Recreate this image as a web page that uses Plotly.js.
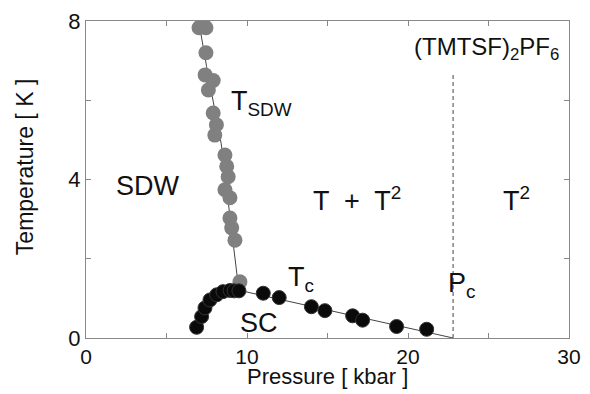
<!DOCTYPE html>
<html>
<head>
<meta charset="utf-8">
<script src="https://cdn.plot.ly/plotly-3.0.1.min.js"></script>
<style>html,body{margin:0;padding:0;background:#fff;}#chart{width:590px;height:394px;}</style>
</head>
<body>
<div id="chart"></div>
<script>
// SDW transition points (gray)
const sdwPressure = [7.02, 7.45, 7.45, 7.4, 7.9, 7.6, 7.9, 8.1, 8.0, 8.63, 8.74, 8.83, 8.63, 8.94, 8.94, 9.05, 9.25, 9.56];
const sdwTemp     = [7.83, 7.83, 7.2, 6.64, 6.5, 6.26, 5.68, 5.38, 5.12, 4.62, 4.33, 4.07, 3.74, 3.54, 3.03, 2.78, 2.47, 1.42];
// SDW guide line
const sdwLineP = [7.0, 7.19, 7.49, 8.4, 9.25, 9.45];
const sdwLineT = [8.0, 7.57, 6.85, 4.9, 1.97, 1.35];
// SC transition points (black)
const scPressure = [6.87, 7.18, 7.39, 7.7, 8.12, 8.51, 8.95, 9.2, 9.5, 11.01, 12.0, 14.0, 14.84, 16.56, 17.18, 19.29, 21.16];
const scTemp     = [0.27, 0.54, 0.76, 0.96, 1.09, 1.17, 1.2, 1.19, 1.19, 1.13, 1.02, 0.79, 0.69, 0.56, 0.45, 0.29, 0.22];
// Tc guide line
const tcLineP = [9.0, 22.8];
const tcLineT = [1.25, 0.0];
// critical pressure
const pc = 22.8;
const pcLineT = [0, 6.7];
// tick labels
const xTickVals = [0, 5, 10, 15, 20, 25, 30];
const xTickText = ['0', '', '10', '', '20', '', '30'];
const yTickVals = [0, 2, 4, 6, 8];
const yTickText = ['0', '', '4', '', '8'];
const xTitle = 'Pressure [ kbar ]';
const yTitle = 'Temperature [ K ]';

const FONT = 'Arial, "Liberation Sans", Helvetica, sans-serif';
const INK = '#111111';

const traces = [
  {x: sdwLineP, y: sdwLineT, mode: 'lines', line: {color: '#444', width: 1}, hoverinfo: 'skip', showlegend: false},
  {x: sdwPressure, y: sdwTemp, mode: 'markers', marker: {size: 15, color: '#808080', line: {width: 0}}, showlegend: false},
  {x: tcLineP, y: tcLineT, mode: 'lines', line: {color: '#444', width: 1}, hoverinfo: 'skip', showlegend: false},
  {x: [pc, pc], y: pcLineT, mode: 'lines', line: {color: '#444', width: 1, dash: '4px,3px'}, hoverinfo: 'skip', showlegend: false},
  {x: scPressure, y: scTemp, mode: 'markers', marker: {size: 14, color: '#0a0a0a', line: {width: 1, color: '#333'}}, showlegend: false}
];

function ann(x, y, text, size, xanchor) {
  return {x: x, y: y, xref: 'x', yref: 'y', text: text, showarrow: false,
          xanchor: xanchor || 'left', yanchor: 'middle', font: {family: FONT, size: size, color: INK}};
}

const layout = {
  width: 590, height: 394,
  margin: {l: 86, r: 21, t: 21, b: 56},
  paper_bgcolor: '#fff', plot_bgcolor: '#fff',
  font: {family: FONT, color: INK},
  xaxis: {
    range: [0, 30], tickvals: xTickVals, ticktext: xTickText,
    ticks: 'inside', ticklen: 5, tickcolor: '#888', tickwidth: 1,
    showline: true, linecolor: '#888', linewidth: 1, mirror: 'ticks',
    showgrid: false, zeroline: false,
    tickfont: {size: 21, color: INK}
  },
  yaxis: {
    range: [0, 8], tickvals: yTickVals, ticktext: yTickText,
    ticks: 'inside', ticklen: 5, tickcolor: '#888', tickwidth: 1,
    showline: true, linecolor: '#888', linewidth: 1, mirror: 'ticks',
    showgrid: false, zeroline: false,
    tickfont: {size: 22, color: INK}
  },
  annotations: [
    {x: 0.5, y: -0.12, xref: 'paper', yref: 'paper', text: xTitle, showarrow: false,
     xanchor: 'center', yanchor: 'middle', font: {family: FONT, size: 22, color: INK}},
    {x: -0.1263, y: 0.539, xref: 'paper', yref: 'paper', text: yTitle, showarrow: false, textangle: -90,
     xanchor: 'center', yanchor: 'middle', font: {family: FONT, size: 23, color: INK}},
    ann(3.88, 3.84, 'SDW', 27, 'center'),
    ann(8.9, 5.93, 'T<sub>SDW</sub>', 27),
    ann(14.0, 3.5, 'T  +  T<sup>2</sup>', 27),
    ann(25.8, 3.5, 'T<sup>2</sup>', 27),
    ann(20.25, 7.3, '(TMTSF)<sub>2</sub>PF<sub>6</sub>', 24),
    ann(22.35, 1.35, 'P<sub>c</sub>', 27),
    ann(12.45, 1.48, 'T<sub>c</sub>', 27),
    ann(10.75, 0.37, 'SC', 27, 'center')
  ]
};

Plotly.newPlot('chart', traces, layout, {staticPlot: true, displayModeBar: false});
</script>
</body>
</html>
